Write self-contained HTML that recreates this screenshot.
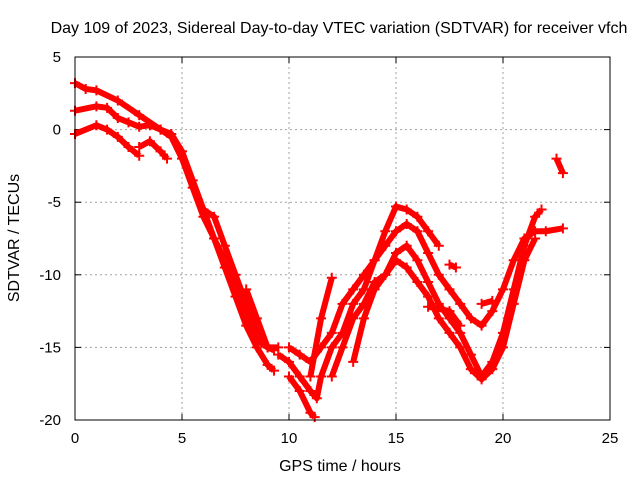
<!DOCTYPE html>
<html><head><meta charset="utf-8"><style>
body{margin:0;background:#fff}
svg text{font-family:"Liberation Sans",sans-serif;font-size:15px;fill:#000}
svg text.big{font-size:16px}
</style></head><body>
<svg id="c" width="640" height="480"></svg>
<script>
const xTicks=[0,5,10,15,20,25];
const yTicks=[5,0,-5,-10,-15,-20];
const trackA=[[0,3.2],[0.5,2.8],[1,2.7],[2,2.0],[3,1.0],[4,0],[4.5,-0.5],[5,-2],[5.5,-4],[6,-6],[6.5,-7.5],[7,-9],[7.5,-11],[8,-13],[8.5,-14.5],[9,-15],[9.5,-15]];
const trackB=[[0,1.3],[1,1.6],[1.5,1.5],[2,0.8],[2.5,0.5],[3,0.2],[3.5,0.3],[4,0],[4.5,-0.3],[5,-1.5],[5.5,-3.5],[6,-5.5],[6.5,-7.5],[7,-9.5],[7.5,-11.5],[8,-13.5],[8.5,-15],[9,-16.2],[9.3,-16.6]];
const trackC=[[0,-0.3],[1,0.3],[1.5,0],[2,-0.5],[2.5,-1.2],[3,-1.8]];
const trackC2=[[3,-1.2],[3.5,-0.8],[4,-1.5],[4.3,-2]];
const trackD=[[6,-5.5],[6.5,-6],[7,-8],[7.5,-10],[8,-12],[8.5,-14],[9,-15]];
const trackE=[[8,-11],[8.5,-13],[9,-15],[9.3,-15.2]];
const trackF=[[9.5,-15.5],[10,-16],[10.5,-17],[11,-18],[11.3,-18.5],[11.5,-17],[12,-15],[12.5,-14],[13,-12],[13.5,-11],[14,-9],[14.5,-7],[15,-5.3],[15.5,-5.5],[16,-6],[16.5,-7],[17,-8]];
const trackG=[[10,-15],[10.5,-15.5],[11,-16],[11.5,-15],[12,-14],[12.5,-12],[13,-11],[13.5,-10],[14,-9],[14.5,-8],[15,-7],[15.5,-6.5],[16,-7],[16.5,-8.5],[17,-10],[17.5,-11],[18,-12],[18.5,-13],[19,-13.5],[19.5,-12.5],[20,-11],[20.5,-9],[21,-7.5],[21.5,-7],[22,-7],[22.8,-6.8]];
const trackH=[[10,-17],[10.5,-18],[11,-19.5],[11.2,-19.8]];
const trackI=[[12,-17],[12.5,-15],[13,-13],[13.5,-12],[14,-10.5],[14.5,-10],[15,-8.5],[15.5,-8],[16,-9],[16.5,-10.5],[17,-12],[17.5,-13],[18,-14],[18.5,-15.5],[19,-17],[19.5,-16],[20,-14],[20.5,-11],[21,-8],[21.5,-6],[21.8,-5.5]];
const trackJ=[[13,-16],[13.5,-13],[14,-11],[14.5,-10],[15,-9],[15.5,-9.5],[16,-10.5],[16.5,-11.5],[17,-13],[17.5,-14],[18,-15],[18.5,-16.5],[19,-17.2],[19.5,-16.5],[20,-15],[20.5,-12],[21,-9],[21.5,-7.5]];
const trackK=[[11,-17],[11.5,-13],[12,-10.2]];
const trackL=[[22.5,-2],[22.8,-3]];
const trackM=[[17.5,-9.3],[17.8,-9.5]];
const trackN=[[16.5,-12.2],[17.5,-12.5],[18,-13.5]];
const trackO=[[19,-12],[19.5,-11.8]];
const tracks=[trackA,trackB,trackC,trackC2,trackD,trackE,trackF,trackG,trackH,trackI,trackJ,trackK,trackL,trackM,trackN,trackO];

const L=75,R=610,T=57,B=420,NS="http://www.w3.org/2000/svg";
const sx=v=>L+(v-0)/(25-0)*(R-L);
const sy=v=>T+(5-v)/(5+20)*(B-T);
const svg=document.getElementById('c');
function mk(tag,attrs,parent){const e=document.createElementNS(NS,tag);for(const k in attrs)e.setAttribute(k,attrs[k]);(parent||svg).appendChild(e);return e;}
const grid=mk('g',{});


xTicks.forEach(t=>{
 if(t>0&&t<25){const l=mk('line',{x1:sx(t),x2:sx(t),y1:T,y2:B,stroke:'#a0a0a0','stroke-dasharray':'2,3'},grid);}
 mk('line',{x1:sx(t),x2:sx(t),y1:B,y2:B-6,stroke:'#000'});
 mk('line',{x1:sx(t),x2:sx(t),y1:T,y2:T+6,stroke:'#000'});
 const tx=mk('text',{x:sx(t),y:B+23,'text-anchor':'middle'});tx.textContent=t;
 
 
});
yTicks.forEach(t=>{
 if(t<5&&t>-20){const l=mk('line',{x1:L,x2:R,y1:sy(t),y2:sy(t),stroke:'#a0a0a0','stroke-dasharray':'2,3'},grid);}
 mk('line',{x1:L,x2:L+6,y1:sy(t),y2:sy(t),stroke:'#000'});
 mk('line',{x1:R,x2:R-6,y1:sy(t),y2:sy(t),stroke:'#000'});
 const tx=mk('text',{x:L-14,y:sy(t)+5,'text-anchor':'end'});tx.textContent=t;
 
 
});
const series=mk('g',{});


tracks.forEach(tr=>{
 const p=mk('polyline',{points:tr.map(d=>sx(d[0])+','+sy(d[1])).join(' '),fill:'none',stroke:'#f00','stroke-width':6,'stroke-linejoin':'round'},series);
 
 
 tr.forEach(d=>{const x=sx(d[0]),y=sy(d[1]);
  mk('path',{d:`M${x-5},${y}H${x+5}M${x},${y-5}V${y+5}`,stroke:'#f00','stroke-width':2},series);});
});
const fr=mk('rect',{x:L,y:T,width:R-L,height:B-T,fill:'none',stroke:'#000'});


const ti=mk('text',{x:339,y:33,'text-anchor':'middle',class:'big'});ti.textContent='Day 109 of 2023, Sidereal Day-to-day VTEC variation (SDTVAR) for receiver vfch';


const xl=mk('text',{x:340,y:471,'text-anchor':'middle',class:'big'});xl.textContent='GPS time / hours';


const yl=mk('text',{x:0,y:0,'text-anchor':'middle',class:'big',transform:'translate(19,238) rotate(-90)'});yl.textContent='SDTVAR / TECUs';


</script>
</body></html>
